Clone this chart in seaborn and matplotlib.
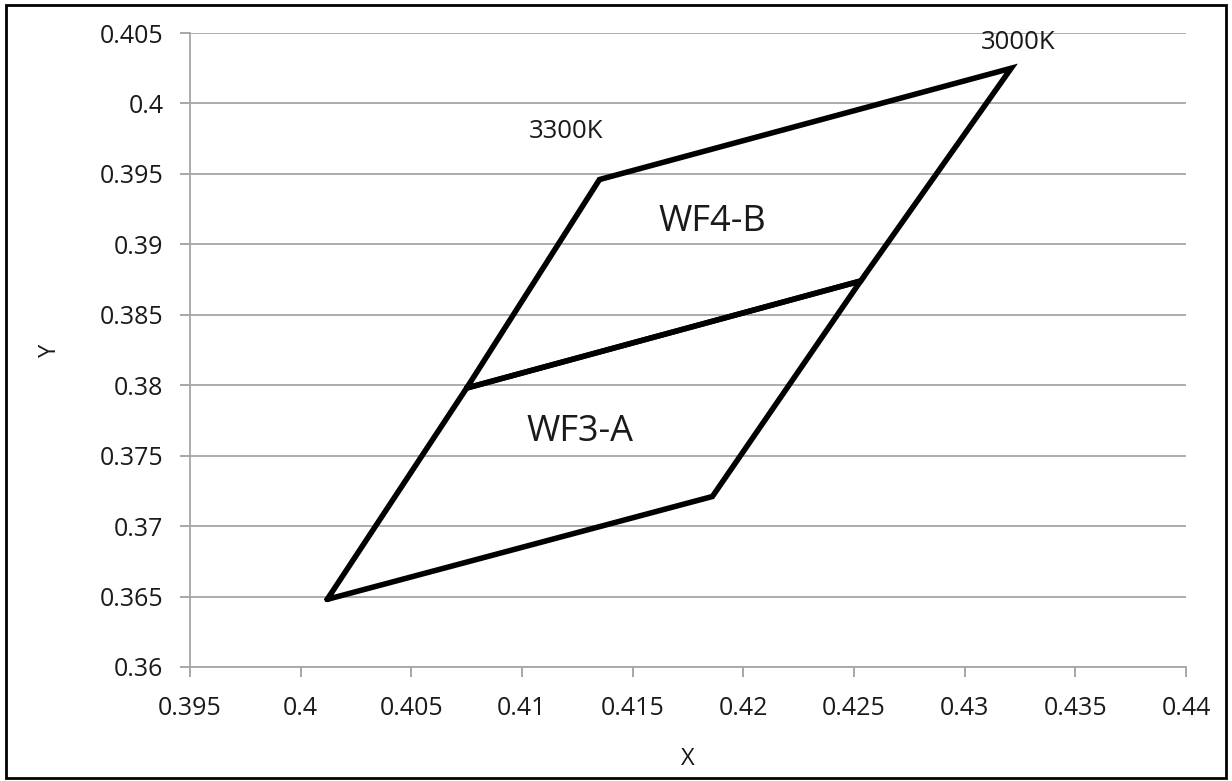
import pandas as pd
import matplotlib.pyplot as plt
import seaborn as sns
from matplotlib.patches import Rectangle

# Cantos dos quadrilateros (x, y cromaticidade)
wf3a_x = [0.4012, 0.4186, 0.4253, 0.4075, 0.4012]
wf3a_y = [0.3648, 0.3721, 0.3874, 0.3798, 0.3648]
wf4b_x = [0.4075, 0.4253, 0.4321, 0.4135, 0.4075]
wf4b_y = [0.3798, 0.3874, 0.4025, 0.3946, 0.3798]

rotulos_txt = ['3000K', '3300K', 'WF4-B', 'WF3-A']
rotulos_x = [0.4324, 0.4120, 0.4186, 0.4126]
rotulos_y = [0.4043, 0.3980, 0.3916, 0.3767]
rotulos_tam = [18.5, 18.5, 26, 26]

x_ticks = [0.395, 0.4, 0.405, 0.41, 0.415, 0.42, 0.425, 0.43, 0.435, 0.44]
y_ticks = [0.36, 0.365, 0.37, 0.375, 0.38, 0.385, 0.39, 0.395, 0.4, 0.405]


def fmt(v):
    return ('%.3f' % v).rstrip('0').rstrip('.')


sns.set_theme(style="white")
plt.rcParams['font.family'] = ['Open Sans', 'DejaVu Sans']

df = pd.concat([
    pd.DataFrame({'x': wf3a_x, 'y': wf3a_y, 'zona': 'WF3-A'}),
    pd.DataFrame({'x': wf4b_x, 'y': wf4b_y, 'zona': 'WF4-B'}),
], ignore_index=True)

fig = plt.figure(figsize=(12.32, 7.81), dpi=100)
ax = fig.add_axes([0.1542, 0.146, 0.8085, 0.8117])

sns.lineplot(data=df, x='x', y='y', hue='zona', palette=['black', 'black'],
             sort=False, estimator=None, linewidth=4, legend=False, ax=ax,
             solid_joinstyle='miter')

for t, xx, yy, s in zip(rotulos_txt, rotulos_x, rotulos_y, rotulos_tam):
    ax.text(xx, yy, t, fontsize=s, ha='center', va='center', color='#1a1a1a')

ax.set_xlim(0.395, 0.44)
ax.set_ylim(0.36, 0.405)
ax.set_xticks(x_ticks)
ax.set_yticks(y_ticks)
ax.set_xticklabels([fmt(v) for v in x_ticks])
ax.set_yticklabels([fmt(v) for v in y_ticks])
ax.tick_params(axis='both', labelsize=18, colors='#a0a0a0', labelcolor='#1a1a1a',
               direction='out', length=7, width=1.3, left=True, bottom=True)
ax.tick_params(axis='y', pad=12)
ax.tick_params(axis='x', pad=14)
ax.yaxis.grid(True, color='#a6a6a6', linewidth=1.3)
ax.xaxis.grid(False)
for lado in ['top', 'right']:
    ax.spines[lado].set_visible(False)
for lado in ['left', 'bottom']:
    ax.spines[lado].set_color('#a6a6a6')
    ax.spines[lado].set_linewidth(1.3)

ax.set_xlabel('X', fontsize=17, color='#1a1a1a')
ax.set_ylabel('Y', fontsize=17, color='#1a1a1a')
ax.yaxis.set_label_coords(-0.128, 0.5)
ax.xaxis.set_label_coords(0.5, -0.127)

# Moldura da area do grafico
fig.patches.append(Rectangle((0.005, 0.004), 0.99, 0.99, transform=fig.transFigure,
                             fill=False, edgecolor='black', linewidth=2))

plt.savefig('out.png', dpi=100)
plt.close()
